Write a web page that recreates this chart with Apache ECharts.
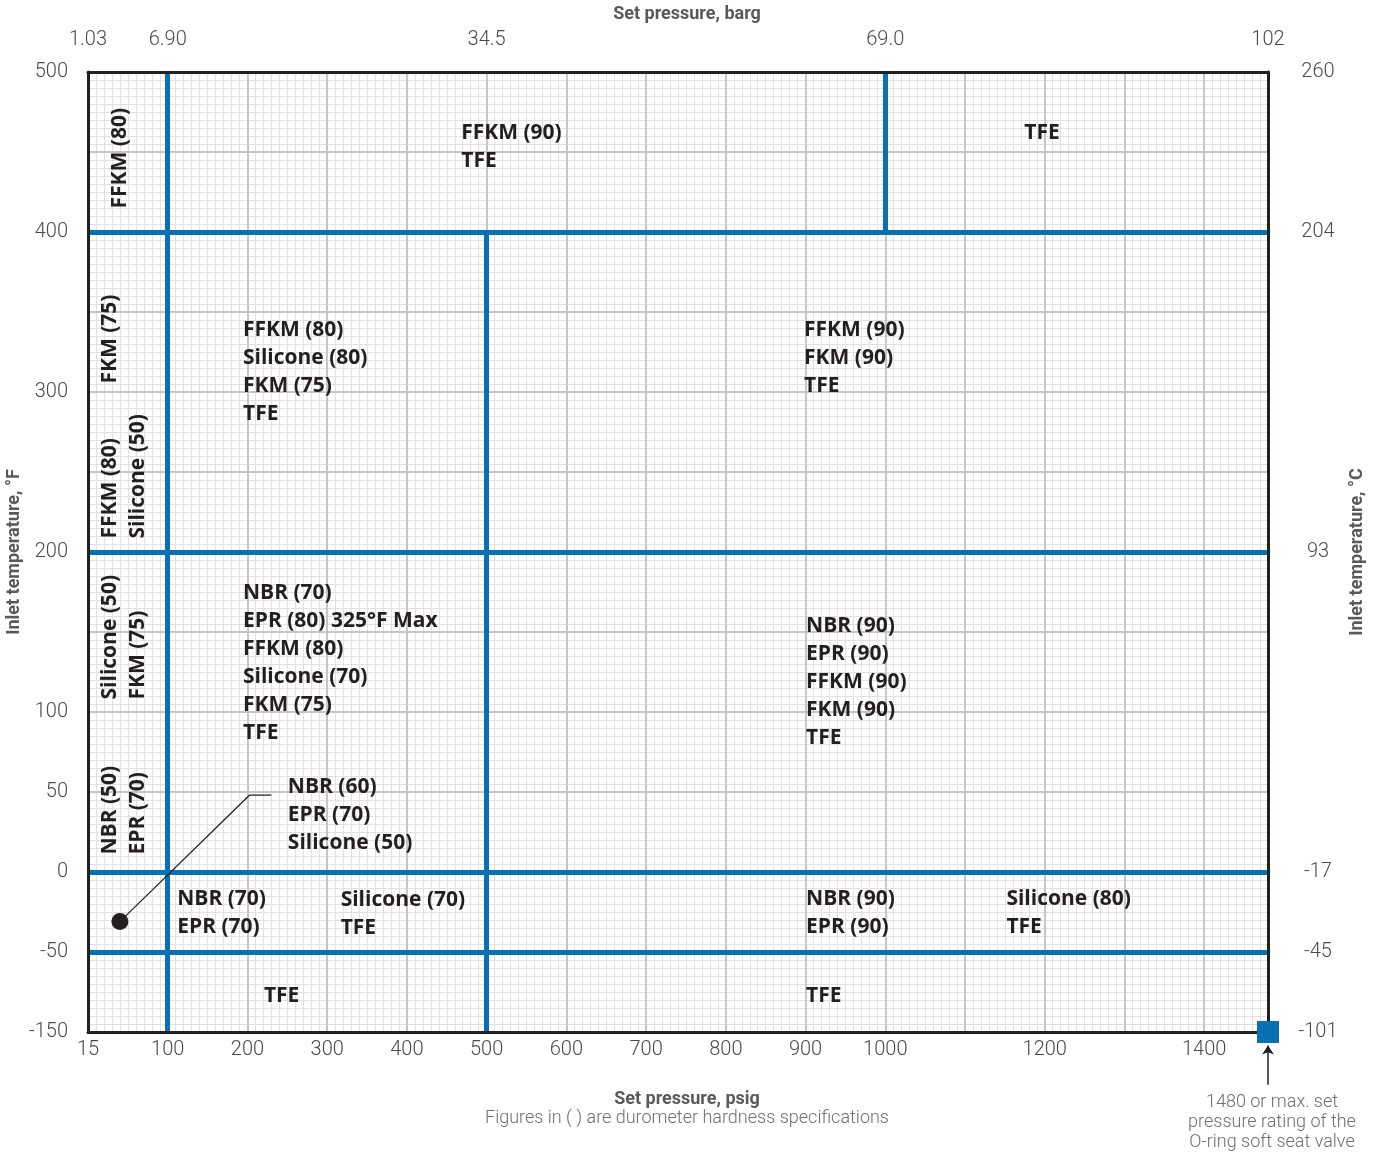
<!DOCTYPE html>
<html><head><meta charset="utf-8">
<script src="https://cdn.jsdelivr.net/npm/echarts@6/dist/echarts.min.js"></script>
<style>html,body{margin:0;padding:0;background:#fff}#c{width:1381px;height:1153px}</style>
</head><body><div id="c"></div>
<script>
// Axis tick values (plot scale) and their printed labels
const psigTicks = [0,100,200,300,400,500,600,700,800,900,1000,1200,1400];
const psigLabels = ['15','100','200','300','400','500','600','700','800','900','1000','1200','1400'];
const bargTicks = [0,100,500,1000,1480];
const bargLabels = ['1.03','6.90','34.5','69.0','102'];
const degFTicks = [-100,-50,0,50,100,200,300,400,500];
const degFLabels = ['-150','-50','0','50','100','200','300','400','500'];
const degCTicks = [-100,-50,0,200,400,500];
const degCLabels = ['-101','-45','-17','93','204','260'];

// Blue region boundaries [[x1,y1],[x2,y2]] in psig / °F plot units
const dividers = [
  [[100,-100],[100,500]],
  [[0,400],[1480,400]],
  [[1000,400],[1000,500]],
  [[500,-100],[500,400]],
  [[0,200],[1480,200]],
  [[0,0],[1480,0]],
  [[0,-50],[1480,-50]]
];

// Region material lists: [x, y (top-left), text]
const regionTexts = [
  [468.75, 470, 'FFKM (90)\nTFE'],
  [1175, 470, 'TFE'],
  [195, 347, 'FFKM (80)\nSilicone (80)\nFKM (75)\nTFE'],
  [898.75, 347, 'FFKM (90)\nFKM (90)\nTFE'],
  [195, 183, 'NBR (70)\nEPR (80) 325°F Max\nFFKM (80)\nSilicone (70)\nFKM (75)\nTFE'],
  [901.25, 162, 'NBR (90)\nEPR (90)\nFFKM (90)\nFKM (90)\nTFE'],
  [251.25, 61.5, 'NBR (60)\nEPR (70)\nSilicone (50)'],
  [112.5, -8.5, 'NBR (70)\nEPR (70)'],
  [317.5, -9, 'Silicone (70)\nTFE'],
  [901.25, -8.5, 'NBR (90)\nEPR (90)'],
  [1152.5, -8.5, 'Silicone (80)\nTFE'],
  [221.25, -69, 'TFE'],
  [901.25, -69, 'TFE']
];
// Vertical labels in the 15-100 psig column: [x, y (bottom), text]
const sideTexts = [
  [41.25, 414.4, 'FFKM (80)'],
  [28.75, 305, 'FKM (75)'],
  [28.75, 208.1, 'FFKM (80)'],
  [63.75, 208.1, 'Silicone (50)'],
  [28.75, 107.5, 'Silicone (50)'],
  [63.75, 107.5, 'FKM (75)'],
  [28.75, 10.6, 'NBR (50)'],
  [63.75, 10.6, 'EPR (70)']
];
const leader = [[40,-31],[202.5,48],[230,48]];
const leaderDot = [40,-31];
const maxMarker = [1480,-100];
const maxArrow = [[1480,-133],[1480,-108.5]];

const BLUE = '#0870b4';
const INK = '#231f20';
const FONT = 'Roboto, "Noto Sans", sans-serif';
const BOLDFONT = '"Open Sans", Roboto, sans-serif';
const lookup = (ticks, labels) => v => { const i = ticks.indexOf(v); return i >= 0 ? labels[i] : ''; };

const tickLabel = { fontFamily: FONT, fontSize: 20, fontWeight: 300, color: '#4a4a4c' };
const nameStyle = { fontFamily: FONT, fontSize: 18, fontWeight: 'bold', color: '#58595b' };

function gridAxis(kind, interval, color, width, z) {
  const a = {
    type: 'value', show: true, z: z,
    axisLine: { show: false }, axisTick: { show: false }, axisLabel: { show: false },
    splitLine: { show: true, showMinLine: false, showMaxLine: false, lineStyle: { color: color, width: width } }
  };
  if (kind === 'x') { a.min = 0; a.max = 1480; a.position = 'bottom'; }
  else { a.min = -100; a.max = 500; a.position = 'left'; }
  a.interval = interval;
  return a;
}

const chart = echarts.init(document.getElementById('c'), null, { renderer: 'canvas' });
chart.setOption({
  animation: false,
  backgroundColor: '#fff',
  grid: { left: 88, right: 113, top: 72, bottom: 121, containLabel: false, outerBoundsMode: 'none' },
  xAxis: [
    { type: 'value', min: 0, max: 1480, position: 'bottom', z: 4,
      axisLine: { show: true, onZero: false, lineStyle: { color: INK, width: 3 } },
      axisTick: { show: false }, splitLine: { show: false },
      axisLabel: Object.assign({ customValues: psigTicks, formatter: lookup(psigTicks, psigLabels), margin: 8 }, tickLabel),
      name: 'Set pressure, psig', nameLocation: 'middle', nameGap: 58,
      nameTextStyle: Object.assign({ padding: [0, 0, 0, 18] }, nameStyle) },
    { type: 'value', min: 0, max: 1480, position: 'top', z: 4,
      axisLine: { show: true, onZero: false, lineStyle: { color: INK, width: 3 } },
      axisTick: { show: false }, splitLine: { show: false },
      axisLabel: Object.assign({ customValues: bargTicks, formatter: lookup(bargTicks, bargLabels), margin: 22 }, tickLabel),
      name: 'Set pressure, barg', nameLocation: 'middle', nameGap: 49,
      nameTextStyle: Object.assign({ padding: [0, 0, 0, 18] }, nameStyle) },
    gridAxis('x', 10, '#e1e1e1', 1, 0),
    gridAxis('x', 100, '#c6c6ca', 2, 1)
  ],
  yAxis: [
    { type: 'value', min: -100, max: 500, position: 'left', z: 4,
      axisLine: { show: true, onZero: false, lineStyle: { color: INK, width: 3 } },
      axisTick: { show: false }, splitLine: { show: false },
      axisLabel: Object.assign({ customValues: degFTicks, formatter: lookup(degFTicks, degFLabels), margin: 20 }, tickLabel),
      name: 'Inlet temperature, °F', nameLocation: 'middle', nameGap: 65, nameMoveOverlap: false, nameTextStyle: nameStyle },
    { type: 'value', min: -100, max: 500, position: 'right', z: 4,
      axisLine: { show: true, onZero: false, lineStyle: { color: INK, width: 3 } },
      axisTick: { show: false }, splitLine: { show: false },
      axisLabel: Object.assign({ customValues: degCTicks, formatter: lookup(degCTicks, degCLabels), margin: 50, align: 'center' }, tickLabel),
      name: 'Inlet temperature, °C', nameLocation: 'middle', nameGap: 78, nameTextStyle: nameStyle },
    gridAxis('y', 5, '#e1e1e1', 1, 0),
    gridAxis('y', 50, '#c6c6ca', 2, 1)
  ],
  graphic: [
    { type: 'text', x: 687, y: 1118, z: 10,
      style: { text: 'Figures in ( ) are durometer hardness specifications', fontFamily: FONT, fontSize: 18, fontWeight: 300,
               fill: '#6d6e71', align: 'center', verticalAlign: 'middle' } },
    { type: 'text', x: 1272, y: 1122, z: 10,
      style: { text: '1480 or max. set\npressure rating of the\nO-ring soft seat valve', fontFamily: FONT, fontSize: 18, fontWeight: 300,
               lineHeight: 20, fill: '#6d6e71', align: 'center', verticalAlign: 'middle' } }
  ],
  series: [
    { type: 'lines', coordinateSystem: 'cartesian2d', xAxisIndex: 0, yAxisIndex: 0, z: 3,
      lineStyle: { color: BLUE, width: 5, opacity: 1 },
      data: dividers.map(c => ({ coords: c })) },
    { type: 'lines', coordinateSystem: 'cartesian2d', polyline: true, z: 5,
      lineStyle: { color: INK, width: 1.2, opacity: 1 },
      data: [{ coords: leader }] },
    { type: 'scatter', z: 6, symbolSize: 17, itemStyle: { color: INK, opacity: 1 }, data: [leaderDot] },
    { type: 'scatter', z: 6, clip: false, symbol: 'rect', symbolSize: 22, itemStyle: { color: BLUE, opacity: 1 }, data: [maxMarker] },
    { type: 'lines', coordinateSystem: 'cartesian2d', clip: false, z: 6,
      symbol: ['none', 'arrow'], symbolSize: 9,
      lineStyle: { color: INK, width: 1.5, opacity: 1 },
      data: [{ coords: maxArrow }] },
    { type: 'scatter', z: 7, symbolSize: 1, itemStyle: { color: 'rgba(0,0,0,0)', opacity: 1 },
      label: { show: true, position: [0, 0], align: 'left', verticalAlign: 'top', formatter: '{b}',
               fontFamily: BOLDFONT, fontSize: 21, fontWeight: 'bold', lineHeight: 28, color: INK, opacity: 1 },
      data: regionTexts.map(t => ({ name: t[2], value: [t[0], t[1]] })) },
    { type: 'scatter', z: 7, symbolSize: 1, itemStyle: { color: 'rgba(0,0,0,0)', opacity: 1 },
      label: { show: true, position: [0, 0], rotate: 90, align: 'left', verticalAlign: 'middle', formatter: '{b}',
               fontFamily: BOLDFONT, fontSize: 21, fontWeight: 'bold', color: INK, opacity: 1 },
      data: sideTexts.map(t => ({ name: t[2], value: [t[0], t[1]] })) }
  ]
});
</script></body></html>
